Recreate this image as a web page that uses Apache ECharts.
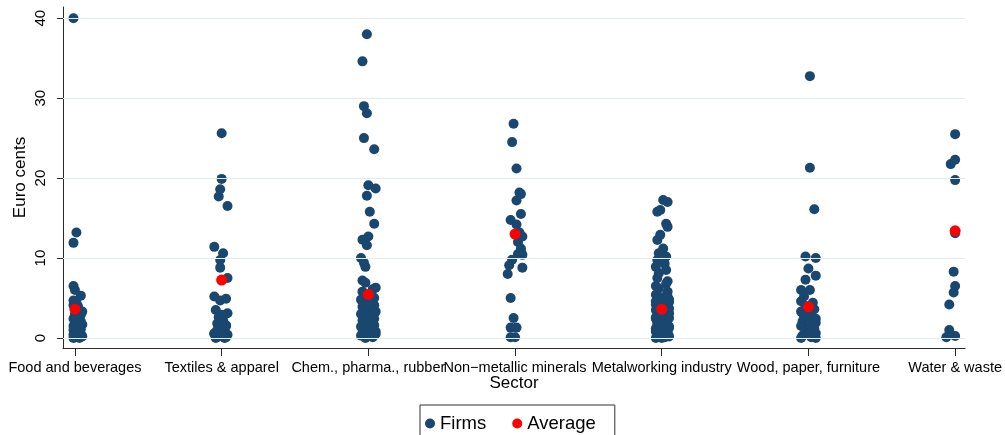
<!DOCTYPE html>
<html>
<head>
<meta charset="utf-8">
<title>Euro cents by sector</title>
<script src="https://cdn.jsdelivr.net/npm/echarts@6/dist/echarts.min.js"></script>
<style>
  html, body { margin: 0; padding: 0; background: #fff; }
  #chart { width: 1005px; height: 435px; }
</style>
</head>
<body>
<div id="chart"></div>
<script>
// 行业
const sectors = ['Food and beverages', 'Textiles & apparel', 'Chem., pharma., rubber', 'Non\u2212metallic minerals',
  'Metalworking industry', 'Wood, paper, furniture', 'Water & waste']
const yTicks = [0, 10, 20, 30, 40]

// firm values per sector (euro cents), with the horizontal jitter (category units)
const foodValues = [40, 13.2, 11.9, 6.5, 6.0, 5.3, 4.7, 4.4, 4.1, 3.8, 3.3, 3.0, 2.7, 2.4, 2.1, 1.9, 1.7, 1.5, 1.3, 1.1,
  0.9, 0.7, 0.5, 0.4, 0.3, 0.2, 0.1, 0.0, 0.0, 3.5, 2.9, 2.2, 1.6, 1.0, 0.6, 0.2, 4.0, 2.5, 1.2, 0.8]
const foodJitter = [-0.01, 0.01, -0.01, -0.01, 0, 0.04, -0.01, 0.01, -0.01, 0.02, 0.05, 0, 0.03, -0.01, 0.04, 0.01, 0.05, -0.01, 0.02, 0.04,
  0, 0.01, 0.04, -0.01, 0.02, 0.05, 0, 0.03, -0.01, 0.01, 0.04, 0.01, 0.03, -0.01, 0.03, 0.01, 0.02, 0.01, 0, 0.03]

const textilesValues = [25.6, 19.9, 18.6, 17.7, 16.5, 11.4, 10.6, 9.75, 8.8, 7.5, 5.2, 4.9, 4.7, 3.5, 3.1, 2.6,
  2.2, 1.8, 1.5, 1.2, 0.9, 0.6, 0.4, 0.2, 0.1, 0, 0, 2.9, 1.0, 0.3, 0.5, 1.6]
const textilesJitter = [0, 0, -0.01, -0.02, 0.04, -0.05, 0.01, -0.01, -0.01, 0.04, -0.05, 0.03, -0.01, -0.04, 0.04, -0.02,
  0.01, -0.03, 0.03, -0.01, 0.02, -0.05, 0.04, -0.02, 0.03, -0.04, 0.02, 0.0, -0.03, 0.01, -0.05, 0.03]

const chemValues = [38.0, 34.6, 29.0, 28.1, 25.0, 23.6, 19.1, 18.7, 17.8, 15.8, 14.3, 12.7, 12.3, 11.6, 10.0, 9.4, 8.9, 7.2, 6.9, 6.3,
  6.1, 5.8, 5.6, 5.3, 5.0, 4.8, 4.6, 4.4, 4.1, 3.9, 3.7, 3.5, 3.3, 3.0, 2.8, 2.6, 2.4, 2.2, 2.0, 1.8,
  1.6, 1.4, 1.2, 1.0, 0.8, 0.6, 0.4, 0.3, 0.1, 0.0, 4.3, 3.1, 2.1, 1.1, 0.5, 5.1, 2.7, 1.5]
const chemJitter = [-0.01, -0.04, -0.03, -0.01, -0.03, 0.04, 0, 0.05, -0.01, 0.01, 0.04, 0, -0.04, -0.01, -0.05, -0.03, -0.02, -0.04, -0.02, 0.05,
  0.03, -0.04, 0.02, -0.02, 0.04, -0.05, 0.01, -0.03, 0.04, -0.04, 0.02, -0.01, 0.05, -0.05, 0.02, -0.02, 0.04, -0.04, 0.01, -0.03,
  0.04, -0.05, 0.02, -0.02, 0.05, -0.04, 0.01, -0.05, 0.03, -0.02, 0.0, 0.03, -0.01, 0.03, 0.05, 0.0, -0.03, 0.0]

const mineralsValues = [26.8, 24.5, 21.2, 18.2, 18.0, 17.2, 15.5, 14.75, 14.2, 12.7, 12.0, 10.8, 10.5, 10.4, 9.8, 9.1, 8.8, 8.0,
  5.0, 2.5, 1.3, 1.3, 0.1, 0.1, 13.2, 11.2]
const mineralsJitter = [-0.01, -0.02, 0.01, 0.03, 0.04, 0.01, 0.04, -0.03, 0.01, 0.05, 0.02, 0.04, 0.02, 0.05, -0.02, -0.04, 0.05, -0.05,
  -0.03, -0.01, -0.03, 0.01, -0.03, 0, 0.03, 0.04]

const metalValues = [17.25, 17.0, 16.0, 15.8, 14.3, 13.9, 12.9, 12.25, 11.2, 10.6, 10.2, 9.75, 9.3, 8.9, 8.5, 8.1, 7.5, 7.1, 6.8, 6.5, 6.2, 5.8,
  5.4, 5.2, 5.0, 4.9, 4.7, 4.5, 4.4, 4.2, 4.0, 3.9, 3.7, 3.5, 3.4, 3.2, 3.0, 2.9, 2.7, 2.5, 2.4, 2.2,
  2.0, 1.9, 1.7, 1.5, 1.4, 1.2, 1.0, 0.9, 0.7, 0.5, 0.4, 0.2, 0.0, 0.1, 0.3, 0.6, 0.8, 1.1, 1.3, 1.6,
  1.8, 2.1, 2.3, 2.6, 2.8, 3.1, 3.3, 3.6, 3.8, 4.1, 4.3, 4.6, 4.8, 5.1, 0.0, 0.2]
const metalJitter = [0.01, 0.04, -0.01, -0.03, 0.03, 0.04, -0.01, -0.03, 0.01, -0.02, 0.03, -0.03, 0.02, -0.04, 0.03, -0.02, -0.03, 0.04, 0.03, -0.04, -0.02, 0.04,
  -0.04, 0.04, -0.01, 0.02, -0.03, 0.05, 0.0, -0.04, 0.03, -0.02, 0.05, -0.04, 0.01, 0.04, -0.03, 0.02, -0.01, 0.05, -0.04, 0.03,
  0.0, -0.03, 0.04, -0.02, 0.05, -0.04, 0.02, -0.01, 0.04, -0.03, 0.01, 0.05, -0.04, 0.02, -0.02, 0.04, -0.04, 0.01, 0.05, -0.03,
  0.03, -0.01, 0.04, -0.04, 0.02, 0.05, -0.02, 0.0, 0.04, -0.03, 0.02, -0.04, 0.05, 0.01, 0.0, 0.03]

const woodValues = [32.75, 21.3, 16.1, 10.2, 10.0, 8.7, 7.8, 7.3, 6.0, 6.0, 5.2, 4.6, 4.4, 4.0, 3.6, 3.3, 3.0, 2.7, 2.4, 2.1,
  1.8, 1.5, 1.2, 0.9, 0.6, 0.3, 0.1, 0.0, 0.0, 3.8, 2.5, 1.4, 0.5, 2.9, 1.9]
const woodJitter = [0.01, 0.01, 0.04, -0.02, 0.05, 0, 0.05, -0.02, -0.05, 0.01, -0.03, -0.05, 0.03, -0.02, 0.04, -0.05, 0.02, -0.03, 0.05, -0.04,
  0.03, -0.05, 0.04, -0.02, 0.05, -0.04, 0.02, -0.05, 0.05, 0.0, 0.0, 0.01, 0.0, -0.01, 0.05]

const waterValues = [25.5, 22.3, 21.75, 19.75, 13.1, 8.3, 6.5, 5.7, 4.2, 1.0, 0.1, 0.25]
const waterJitter = [0, 0, -0.03, 0, 0, -0.01, 0, -0.01, -0.04, -0.04, -0.06, 0]

// 平均值
const averageValues = [3.6, 7.25, 5.45, 13.0, 3.6, 3.9, 13.4]

const sectorValues = [foodValues, textilesValues, chemValues, mineralsValues, metalValues, woodValues, waterValues]
const sectorJitter = [foodJitter, textilesJitter, chemJitter, mineralsJitter, metalJitter, woodJitter, waterJitter]

const firmsData = []
sectorValues.forEach((vals, i) => {
  vals.forEach((v, k) => {
    firmsData.push([i + 1 + sectorJitter[i][k], v])
  })
})
const averageData = averageValues.map((v, i) => [i + 1, v])

const font = 'Liberation Sans, Arial, Helvetica, sans-serif'
const axisColor = '#2b2b2b'

const chart = echarts.init(document.getElementById('chart'), null, { renderer: 'canvas' })

chart.setOption({
  animation: false,
  backgroundColor: '#fff',
  textStyle: { fontFamily: font },
  grid: { left: 63, right: 37, top: 7, bottom: 87 },
  legend: {
    data: ['Firms', 'Average'],
    left: 420,
    top: 405,
    icon: 'circle',
    itemWidth: 10,
    itemHeight: 10,
    itemGap: 26,
    padding: [9, 19, 12, 5],
    borderColor: '#333',
    borderWidth: 1,
    textStyle: { fontSize: 18.5, color: '#000', fontFamily: font }
  },
  xAxis: {
    type: 'value',
    min: 0.9185,
    max: 7.068,
    name: 'Sector',
    nameLocation: 'middle',
    nameGap: 27,
    nameMoveOverlap: false,
    nameTextStyle: { fontSize: 17, color: '#000', fontFamily: font },
    axisLine: { show: true, onZero: false, lineStyle: { color: axisColor, width: 1 } },
    axisTick: { show: true, length: 8, customValues: [1, 2, 3, 4, 5, 6, 7], lineStyle: { color: axisColor } },
    axisLabel: {
      customValues: [1, 2, 3, 4, 5, 6, 7],
      formatter: v => sectors[Math.round(v) - 1],
      fontSize: 14.5,
      color: '#000',
      margin: 12,
      fontFamily: font
    },
    splitLine: { show: false }
  },
  yAxis: {
    type: 'value',
    min: -1.25,
    max: 41.4,
    name: 'Euro cents',
    nameLocation: 'middle',
    nameRotate: 90,
    nameGap: 34,
    nameMoveOverlap: false,
    nameTextStyle: { fontSize: 17, color: '#000', fontFamily: font },
    axisLine: { show: true, onZero: false, lineStyle: { color: axisColor, width: 1 } },
    axisTick: { show: true, length: 6, customValues: yTicks, lineStyle: { color: axisColor } },
    axisLabel: {
      customValues: yTicks,
      rotate: 90,
      fontSize: 15,
      color: '#000',
      margin: 15,
      fontFamily: font
    },
    splitLine: { show: false }
  },
  series: [
    {
      // 网格线
      name: 'grid',
      type: 'scatter',
      data: [],
      silent: true,
      z: 1,
      markLine: {
        silent: true,
        symbol: 'none',
        label: { show: false },
        lineStyle: { color: '#e3ecef', type: 'solid', width: 1 },
        data: yTicks.map(t => ({ yAxis: t }))
      }
    },
    {
      name: 'Firms',
      type: 'scatter',
      symbol: 'circle',
      symbolSize: 10,
      z: 2,
      itemStyle: { color: '#1a476f', opacity: 1 },
      data: firmsData
    },
    {
      name: 'Average',
      type: 'scatter',
      symbol: 'circle',
      symbolSize: 11,
      z: 3,
      itemStyle: { color: '#ff0000', opacity: 1 },
      data: averageData
    }
  ]
})
</script>
</body>
</html>
